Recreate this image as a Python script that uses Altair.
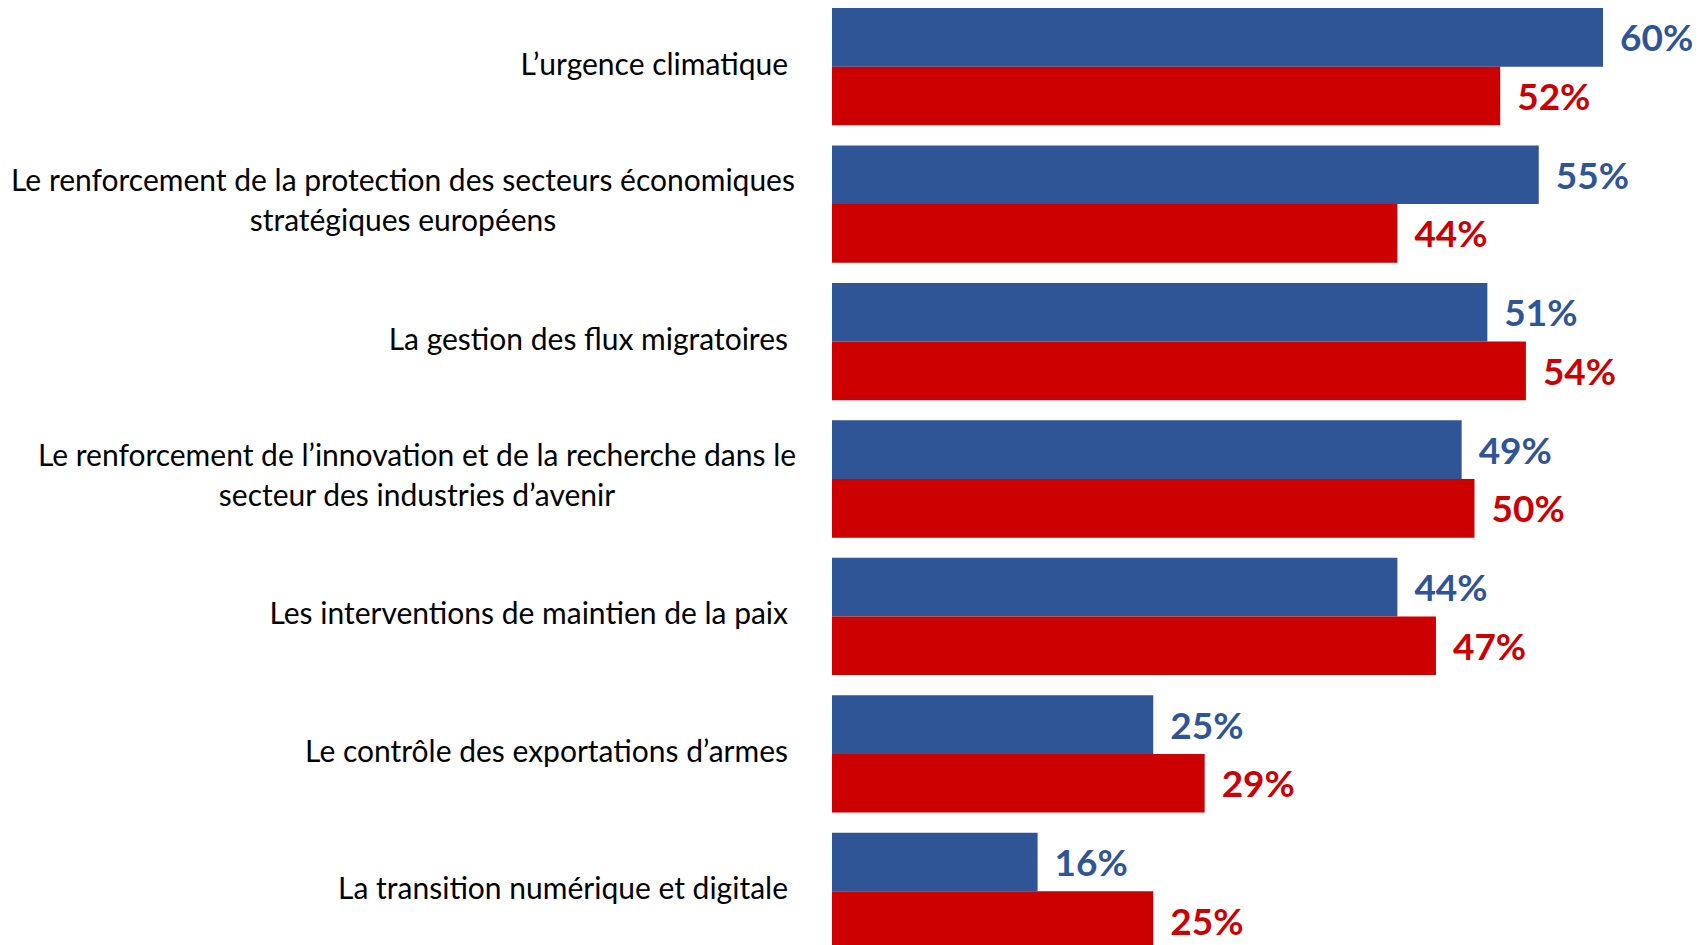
import altair as alt
import pandas as pd

categories = [
    "L’urgence climatique",
    "Le renforcement de la protection des secteurs économiques stratégiques européens",
    "La gestion des flux migratoires",
    "Le renforcement de l’innovation et de la recherche dans le secteur des industries d’avenir",
    "Les interventions de maintien de la paix",
    "Le contrôle des exportations d’armes",
    "La transition numérique et digitale",
]
label_lines = [
    ["L’urgence climatique"],
    ["Le renforcement de la protection des secteurs économiques", "stratégiques européens"],
    ["La gestion des flux migratoires"],
    ["Le renforcement de l’innovation et de la recherche dans le", "secteur des industries d’avenir"],
    ["Les interventions de maintien de la paix"],
    ["Le contrôle des exportations d’armes"],
    ["La transition numérique et digitale"],
]
series = ["Série 1", "Série 2"]
values_1 = [60, 55, 51, 49, 44, 25, 16]
values_2 = [52, 44, 54, 50, 47, 29, 25]
colors = ["#2F5597", "#CC0000"]

rows = []
for i, c in enumerate(categories):
    rows.append({"cat": c, "serie": series[0], "value": values_1[i]})
    rows.append({"cat": c, "serie": series[1], "value": values_2[i]})
df = pd.DataFrame(rows)
df["label"] = df["value"].astype(str) + "%"

cat_df = pd.DataFrame({
    "cat": categories,
    "text": ["\n".join(l) for l in label_lines],
    "idx": list(range(len(categories))),
})

y_scale = alt.Scale(domain=categories, paddingInner=0.146, paddingOuter=0)
yoff_scale = alt.Scale(domain=series, paddingInner=0, paddingOuter=0)
x_scale = alt.Scale(domain=[0, 60], nice=False, zero=True)
color_scale = alt.Scale(domain=series, range=colors)

base = alt.Chart(df)

bars = base.mark_bar().encode(
    x=alt.X("value:Q", scale=x_scale, axis=None),
    y=alt.Y("cat:N", scale=y_scale, axis=None, sort=categories),
    yOffset=alt.YOffset("serie:N", scale=yoff_scale, sort=series),
    color=alt.Color("serie:N", scale=color_scale, legend=None),
)

values = base.mark_text(
    align="left", baseline="middle", dx=17, dy=3,
    font="Lato", fontSize=37, fontWeight="bold",
).encode(
    x=alt.X("value:Q", scale=x_scale, axis=None),
    y=alt.Y("cat:N", scale=y_scale, axis=None, sort=categories),
    yOffset=alt.YOffset("serie:N", scale=yoff_scale, sort=series),
    text="label:N",
    color=alt.Color("serie:N", scale=color_scale, legend=None),
)


def label_layer(filter_expr, align, xpos, dy):
    return alt.Chart(cat_df).transform_filter(filter_expr).mark_text(
        align=align, baseline="middle", font="Lato", fontSize=30, dy=dy,
        color="#000000", lineBreak="\n", lineHeight=40,
    ).encode(
        y=alt.Y("cat:N", scale=y_scale, axis=None, sort=categories),
        x=alt.value(xpos),
        text="text:N",
    )


single = label_layer("datum.idx != 1 && datum.idx != 3", "right", -44, -1)
multi_a = label_layer("datum.idx == 1", "center", -429, -22)
multi_b = label_layer("datum.idx == 3", "center", -415, -22)

chart = alt.layer(bars, values, single, multi_a, multi_b).properties(
    width=771,
    height=942,
    background="white",
    autosize=alt.AutoSizeParams(type="none"),
    padding={"left": 824, "top": 0, "right": 89, "bottom": 0},
).configure_view(stroke=None)

chart.save("out.html", embed_options={"renderer": "svg", "actions": False})
